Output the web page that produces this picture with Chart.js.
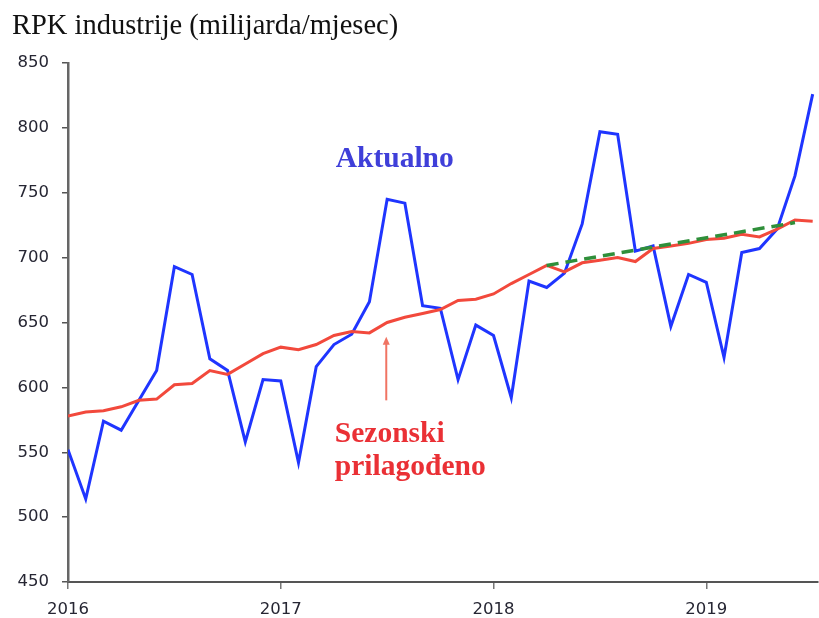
<!DOCTYPE html>
<html>
<head>
<meta charset="utf-8">
<script src="https://cdn.jsdelivr.net/npm/chart.js@4.4.1/dist/chart.umd.min.js"></script>
<style>
  html, body { margin: 0; padding: 0; background: #fff; }
  #wrap { width: 819px; height: 618px; position: relative; }
</style>
</head>
<body>
<div id="wrap"><canvas id="c" width="819" height="618"></canvas></div>
<script>
// ---- data ----
const months = [
  '2016-01','2016-02','2016-03','2016-04','2016-05','2016-06','2016-07','2016-08','2016-09','2016-10','2016-11','2016-12',
  '2017-01','2017-02','2017-03','2017-04','2017-05','2017-06','2017-07','2017-08','2017-09','2017-10','2017-11','2017-12',
  '2018-01','2018-02','2018-03','2018-04','2018-05','2018-06','2018-07','2018-08','2018-09','2018-10','2018-11','2018-12',
  '2019-01','2019-02','2019-03','2019-04','2019-05','2019-06','2019-07'
];
const actual = [
  552, 514, 574, 567, 590, 613, 693, 687, 622, 613, 558, 606,
  605, 542, 616, 633, 641, 666, 745, 742, 663, 661, 606, 648,
  640, 592, 682, 677, 688, 726, 797, 795, 705, 709, 647, 687,
  681, 623, 704, 707, 722, 763, 826
];
const seasonal = [
  578, 581, 582, 585, 590, 591, 602, 603, 613, 610, 618, 626,
  631, 629, 633, 640, 643, 642, 650, 654, 657, 660, 667, 668,
  672, 680, 687, 694, 689, 696, 698, 700, 697, 707, 709, 711,
  714, 715, 718, 716, 722, 729, 728
];
const trendMonths = ['2018-04', '2019-06'];
const trendValues = [694, 727];
const yearLabels = ['2016', '2017', '2018', '2019'];
const yTicks = [450, 500, 550, 600, 650, 700, 750, 800, 850];

// ---- build datasets ----
const idx = m => months.indexOf(m);
const actualPts = actual.map((v, i) => ({ x: i, y: v }));
const seasonalPts = seasonal.map((v, i) => ({ x: i, y: v }));
const trendPts = trendMonths.map((m, i) => ({ x: idx(m), y: trendValues[i] }));
const yearTickPos = yearLabels.map(y => idx(y + '-01'));

const notes = [
  { text: 'Aktualno', month: 15.1, value: 769.5, color: '#3f3fd9' },
  { text: 'Sezonski', month: 15.05, value: 558, color: '#ea3035' },
  { text: 'prilagođeno', month: 15.05, value: 532.5, color: '#ea3035' }
];
const arrow = { month: 17.95, from: 590, to: 639, color: '#f07463' };

const annot = {
  id: 'annot',
  beforeDraw(chart) {
    const ctx = chart.ctx;
    ctx.save();
    ctx.fillStyle = '#111';
    ctx.font = '28.5px "Liberation Serif", serif';
    ctx.textBaseline = 'alphabetic';
    ctx.textAlign = 'left';
    ctx.fillText('RPK industrije (milijarda/mjesec)', 12, 34);
    ctx.restore();
  },
  afterDatasetsDraw(chart) {
    const ctx = chart.ctx;
    const xs = chart.scales.x, ys = chart.scales.y;
    ctx.save();
    ctx.font = 'bold 29.5px "Liberation Serif", serif';
    ctx.textBaseline = 'alphabetic';
    ctx.textAlign = 'left';
    notes.forEach(n => {
      ctx.fillStyle = n.color;
      ctx.fillText(n.text, xs.getPixelForValue(n.month), ys.getPixelForValue(n.value));
    });
    const ax = xs.getPixelForValue(arrow.month);
    const y0 = ys.getPixelForValue(arrow.from);
    const y1 = ys.getPixelForValue(arrow.to);
    ctx.strokeStyle = arrow.color;
    ctx.fillStyle = arrow.color;
    ctx.lineWidth = 2;
    ctx.beginPath();
    ctx.moveTo(ax, y0);
    ctx.lineTo(ax, y1 + 6);
    ctx.stroke();
    ctx.beginPath();
    ctx.moveTo(ax, y1);
    ctx.lineTo(ax - 3.5, y1 + 8);
    ctx.lineTo(ax + 3.5, y1 + 8);
    ctx.closePath();
    ctx.fill();
    ctx.restore();
  }
};

const tickFont = { family: '"DejaVu Sans", sans-serif', size: 16.5, weight: 'normal' };

new Chart(document.getElementById('c'), {
  type: 'line',
  data: {
    datasets: [
      { label: 'Trend', data: trendPts, borderColor: '#2f8f3a', borderWidth: 3.5,
        borderDash: [12, 7], pointRadius: 0, tension: 0, order: 0 },
      { label: 'Sezonski prilagođeno', data: seasonalPts, borderColor: '#f2493c', borderWidth: 3,
        pointRadius: 0, tension: 0, order: 1 },
      { label: 'Aktualno', data: actualPts, borderColor: '#1f35ff', borderWidth: 3,
        pointRadius: 0, tension: 0, order: 2 }
    ]
  },
  options: {
    responsive: false,
    animation: false,
    devicePixelRatio: 1,
    layout: { padding: { top: 63, right: 1, bottom: 0, left: 0 } },
    plugins: { legend: { display: false }, tooltip: { enabled: false }, title: { display: false } },
    scales: {
      x: {
        type: 'linear',
        min: 0,
        max: 42.3,
        afterBuildTicks: s => { s.ticks = yearTickPos.map(v => ({ value: v })); },
        afterFit: s => { s.height = 36; },
        ticks: {
          callback: v => yearLabels[yearTickPos.indexOf(v)],
          color: '#262633', font: tickFont,
          padding: 11, maxRotation: 0, autoSkip: false
        },
        grid: { display: true, drawOnChartArea: false, drawTicks: true, tickLength: 7, color: '#777', lineWidth: 1.5 },
        border: { display: true, color: '#555', width: 2 }
      },
      y: {
        min: 450,
        max: 850,
        afterBuildTicks: s => { s.ticks = yTicks.map(v => ({ value: v })); },
        afterFit: s => { s.width = 68; },
        ticks: {
          color: '#262633', font: tickFont,
          padding: 13
        },
        grid: { display: true, drawOnChartArea: false, drawTicks: true, tickLength: 6, color: '#555', lineWidth: 1.5 },
        border: { display: true, color: '#666', width: 2.5 }
      }
    }
  },
  plugins: [annot]
});
</script>
</body>
</html>
